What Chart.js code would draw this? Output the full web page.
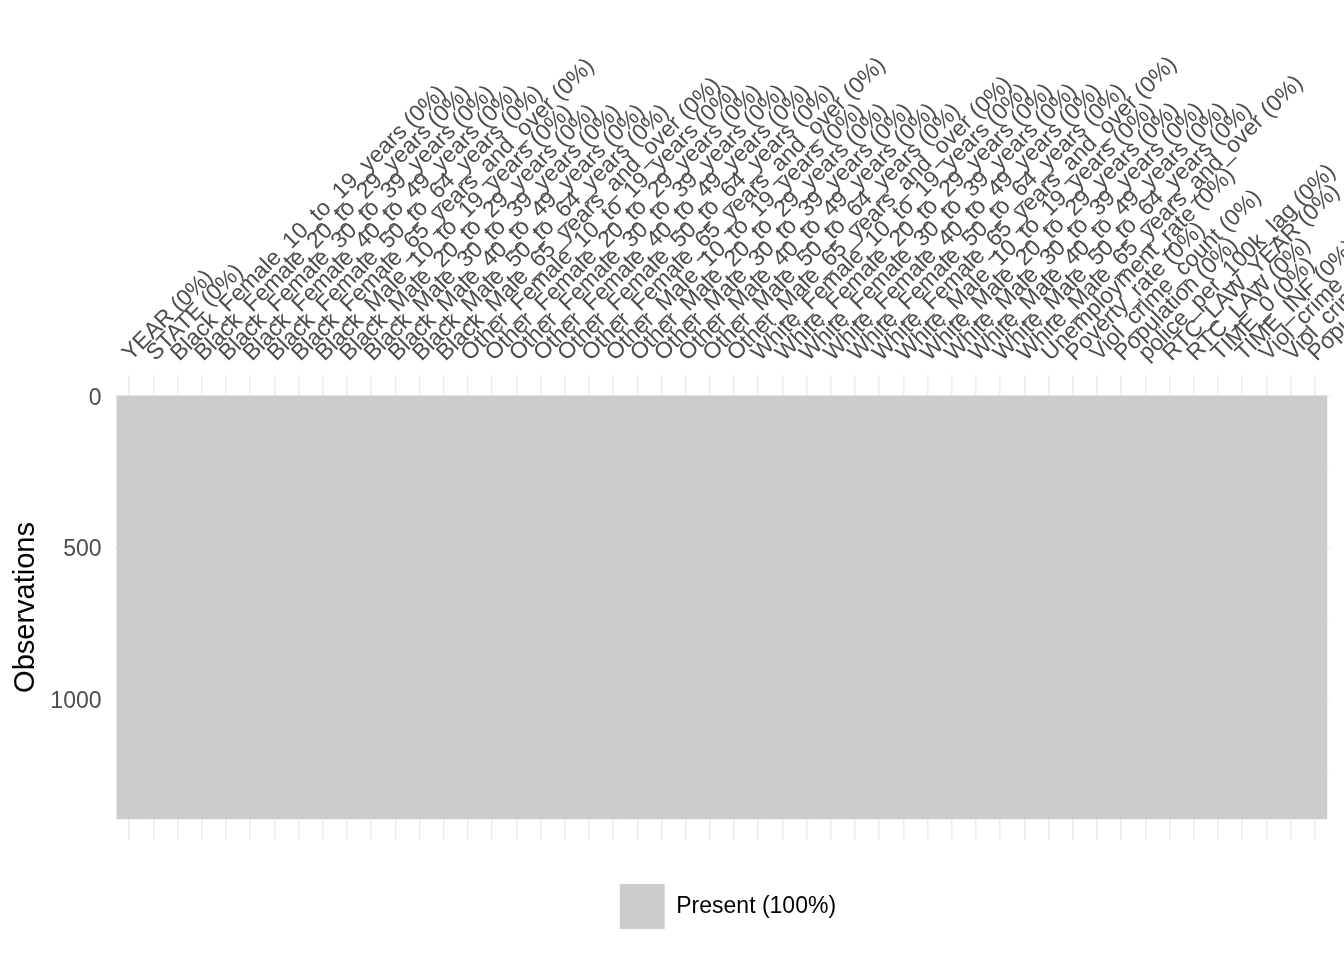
<!DOCTYPE html>
<html>
<head>
<meta charset="utf-8">
<script src="https://cdn.jsdelivr.net/npm/chart.js@4.4.1/dist/chart.umd.min.js"></script>
<style>
  html, body { margin: 0; padding: 0; background: #ffffff; }
  #wrap { width: 1344px; height: 960px; }
</style>
</head>
<body>
<div id="wrap"><canvas id="c" width="1344" height="960"></canvas></div>
<script>
// ---- data ----
const variables = [
  "YEAR", "STATE",
  "Black_Female_10_to_19_years", "Black_Female_20_to_29_years", "Black_Female_30_to_39_years",
  "Black_Female_40_to_49_years", "Black_Female_50_to_64_years", "Black_Female_65_years_and_over",
  "Black_Male_10_to_19_years", "Black_Male_20_to_29_years", "Black_Male_30_to_39_years",
  "Black_Male_40_to_49_years", "Black_Male_50_to_64_years", "Black_Male_65_years_and_over",
  "Other_Female_10_to_19_years", "Other_Female_20_to_29_years", "Other_Female_30_to_39_years",
  "Other_Female_40_to_49_years", "Other_Female_50_to_64_years", "Other_Female_65_years_and_over",
  "Other_Male_10_to_19_years", "Other_Male_20_to_29_years", "Other_Male_30_to_39_years",
  "Other_Male_40_to_49_years", "Other_Male_50_to_64_years", "Other_Male_65_years_and_over",
  "White_Female_10_to_19_years", "White_Female_20_to_29_years", "White_Female_30_to_39_years",
  "White_Female_40_to_49_years", "White_Female_50_to_64_years", "White_Female_65_years_and_over",
  "White_Male_10_to_19_years", "White_Male_20_to_29_years", "White_Male_30_to_39_years",
  "White_Male_40_to_49_years", "White_Male_50_to_64_years", "White_Male_65_years_and_over",
  "Unemployment_rate", "Poverty_rate", "Viol_crime_count", "Population", "police_per_100k_lag",
  "RTC_LAW_YEAR", "RTC_LAW", "TIME_0", "TIME_INF", "Viol_crime_rate_1k", "Viol_crime_rate_1k_log",
  "Population_log"
];
const missingPct = [
  0,0,0,0,0,0,0,0,0,0,
  0,0,0,0,0,0,0,0,0,0,
  0,0,0,0,0,0,0,0,0,0,
  0,0,0,0,0,0,0,0,0,0,
  0,0,0,0,0,0,0,0,0,0
];
const nRows = 1395;
const presentPct = 100;
const yTickValues = [0, 250, 500, 750, 1000, 1250];
const yTickLabels = ["0", "", "500", "", "1000", ""];

// ---- derived ----
const xLabels = variables.map((v, i) => v + " (" + missingPct[i] + "%)");
const tiles = variables.map((v, i) => ({ x: i + 1, y: [0.5, nRows + 0.5] }));

const FONT = "'Liberation Sans', Arial, Helvetica, sans-serif";

const legendShift = {
  id: 'legendShift',
  afterLayout(chart) {
    if (chart.legend) { chart.legend.left += 6; chart.legend.right += 6; }
  }
};

new Chart(document.getElementById('c'), {
  type: 'bar',
  data: {
    datasets: [{
      label: "Present (" + presentPct + "%)",
      data: tiles,
      backgroundColor: '#cccccc',
      borderWidth: 0,
      barPercentage: 1,
      categoryPercentage: 1
    }]
  },
  plugins: [legendShift],
  options: {
    responsive: false,
    devicePixelRatio: 1,
    animation: false,
    layout: { padding: { left: 0, right: 14.7, top: 0, bottom: 21 } },
    plugins: {
      tooltip: { enabled: false },
      legend: {
        display: true,
        position: 'bottom',
        fullSize: false,
        labels: {
          boxWidth: 45,
          boxHeight: 45,
          padding: 44,
          color: '#000000',
          font: { family: FONT, size: 23 }
        }
      }
    },
    scales: {
      x: {
        type: 'linear',
        position: 'top',
        offset: false,
        min: 0.4,
        max: 50.6,
        border: { display: false },
        grid: { color: '#ebebeb', lineWidth: 1.4, drawTicks: false, offset: false },
        afterBuildTicks: (s) => { s.ticks = variables.map((v, i) => ({ value: i + 1 })); },
        ticks: {
          autoSkip: false,
          minRotation: 45,
          maxRotation: 45,
          padding: 8,
          labelOffset: 17,
          color: '#4d4d4d',
          font: { family: FONT, size: 23, lineHeight: 1.2 },
          callback: (v, i) => xLabels[i]
        },
        afterFit: (s) => { s.height = 375; s.paddingLeft = 0; s.paddingRight = 0; }
      },
      y: {
        type: 'linear',
        reverse: true,
        min: -69.25,
        max: 1465.25,
        border: { display: false },
        grid: {
          color: '#ebebeb',
          drawTicks: false,
          lineWidth: (ctx) => (yTickLabels[ctx.index] ? 1.4 : 0.7)
        },
        afterBuildTicks: (s) => { s.ticks = yTickValues.map(v => ({ value: v })); },
        ticks: {
          autoSkip: false,
          padding: 13,
          labelOffset: 2.5,
          color: '#4d4d4d',
          font: { family: FONT, size: 23 },
          callback: (v, i) => yTickLabels[i]
        },
        title: {
          display: true,
          text: 'Observations',
          color: '#000000',
          font: { family: FONT, size: 29 },
          padding: { top: 9, bottom: 0 }
        },
        afterFit: (s) => { s.width = 114.5; }
      }
    }
  }
});
</script>
</body>
</html>
